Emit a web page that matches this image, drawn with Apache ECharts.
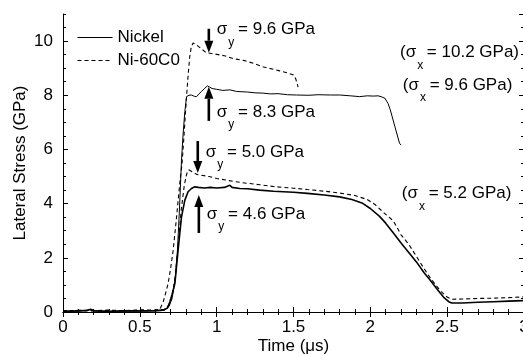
<!DOCTYPE html>
<html><head><meta charset="utf-8">
<script src="https://cdn.jsdelivr.net/npm/echarts@6/dist/echarts.min.js"></script>
<style>html,body{margin:0;padding:0;background:#fff}#c{width:523px;height:355px}</style>
</head><body><div id="c"></div>
<script>
const seriesNames = ['Nickel', 'Ni-60C0'];
const xTickValues = [0, 0.5, 1, 1.5, 2, 2.5, 3];
const yTickValues = [0, 2, 4, 6, 8, 10];

const nickelHigh = [[0,0.02],[0.1,0.03],[0.17,0.08],[0.22,0.03],[0.3,0.02],[0.4,0.03],[0.5,0.03],[0.6,0.04],[0.66,0.06],[0.69,0.2],[0.71,0.5],[0.73,1.2],[0.745,2.3],[0.758,3.8],[0.771,5.6],[0.782,6.6],[0.793,7.4],[0.804,7.95],[0.82,8.0],[0.836,8.01],[0.855,7.96],[0.869,7.95],[0.885,8.05],[0.901,8.14],[0.923,8.26],[0.94,8.35],[0.955,8.3],[0.97,8.25],[1.0,8.22],[1.04,8.18],[1.086,8.2],[1.13,8.14],[1.2,8.12],[1.25,8.09],[1.3,8.08],[1.35,8.05],[1.4,8.06],[1.46,8.02],[1.52,8.01],[1.6,8.0],[1.66,8.02],[1.74,8.01],[1.8,8.01],[1.87,7.98],[1.93,7.95],[1.98,7.98],[2.02,7.97],[2.05,7.98],[2.07,7.95],[2.095,7.89],[2.115,7.7],[2.13,7.46],[2.16,6.84],[2.19,6.23],[2.2,6.16]];

const niCoHigh = [[0,0.04],[0.1,0.05],[0.2,0.04],[0.3,0.06],[0.4,0.05],[0.5,0.06],[0.6,0.05],[0.63,0.1],[0.652,0.37],[0.668,0.7],[0.684,1.05],[0.7,1.6],[0.717,2.28],[0.739,3.5],[0.76,4.75],[0.775,5.5],[0.785,6.3],[0.795,7.2],[0.804,7.95],[0.815,8.8],[0.825,9.43],[0.835,9.8],[0.847,9.93],[0.87,9.85],[0.9,9.72],[0.925,9.6],[0.945,9.56],[0.99,9.52],[1.05,9.46],[1.108,9.35],[1.18,9.28],[1.24,9.18],[1.3,9.05],[1.36,8.97],[1.41,8.9],[1.46,8.83],[1.5,8.75],[1.515,8.6],[1.53,8.3]];

const nickelLow = [[0,0.03],[0.08,0.04],[0.15,0.05],[0.18,0.1],[0.21,0.04],[0.3,0.03],[0.4,0.04],[0.5,0.04],[0.6,0.05],[0.65,0.07],[0.68,0.15],[0.695,0.37],[0.71,0.65],[0.728,1.05],[0.749,2.28],[0.771,3.5],[0.793,4.13],[0.814,4.44],[0.836,4.56],[0.858,4.62],[0.88,4.6],[0.92,4.58],[0.96,4.6],[1.0,4.58],[1.05,4.6],[1.086,4.68],[1.1,4.6],[1.15,4.56],[1.2,4.55],[1.28,4.5],[1.37,4.46],[1.5,4.42],[1.59,4.38],[1.7,4.32],[1.8,4.25],[1.88,4.15],[1.95,4.01],[2.0,3.82],[2.06,3.53],[2.1,3.28],[2.15,2.92],[2.2,2.55],[2.25,2.2],[2.3,1.85],[2.35,1.45],[2.39,1.17],[2.44,0.8],[2.476,0.55],[2.51,0.38],[2.53,0.33],[2.6,0.33],[2.7,0.36],[2.8,0.38],[2.9,0.4],[3.0,0.42]];

const niCoLow = [[0,0.05],[0.1,0.06],[0.2,0.05],[0.3,0.07],[0.4,0.05],[0.5,0.08],[0.6,0.07],[0.66,0.1],[0.69,0.25],[0.71,0.6],[0.73,1.3],[0.75,2.5],[0.77,3.8],[0.79,4.7],[0.805,5.1],[0.818,5.25],[0.84,5.18],[0.87,5.08],[0.9,5.05],[0.95,5.0],[1.0,4.93],[1.11,4.82],[1.2,4.75],[1.28,4.7],[1.37,4.63],[1.5,4.57],[1.59,4.52],[1.7,4.46],[1.8,4.39],[1.9,4.3],[1.98,4.15],[2.03,3.97],[2.085,3.68],[2.15,3.36],[2.2,2.85],[2.25,2.5],[2.3,2.05],[2.35,1.6],[2.39,1.26],[2.45,0.82],[2.5,0.55],[2.53,0.47],[2.6,0.48],[2.7,0.5],[2.8,0.51],[2.9,0.53],[3.0,0.56]];

// yield annotations: text and the point (time, stress) the arrow points to
const yieldTexts = ['9.6 GPa', '8.3 GPa', '5.0 GPa', '4.6 GPa'];
const yieldPoints = [[0.949, 9.57], [0.949, 8.31], [0.877, 5.13], [0.884, 4.32]];
const shockTexts = ['10.2 GPa', '9.6 GPa', '5.2 GPa'];

const FONT = '"Liberation Sans", Arial, Helvetica, sans-serif';
const chart = echarts.init(document.getElementById('c'), null, {renderer: 'canvas'});

const axisLineStyle = {color: '#000', width: 1};
function xAxisDef(pos, labels) {
  return {
    type: 'value', position: pos, min: 0, max: 3, interval: 0.5,
    axisLine: {show: true, lineStyle: axisLineStyle},
    axisTick: {show: true, inside: true, length: 5, lineStyle: axisLineStyle},
    minorTick: {show: true, splitNumber: 5, length: 3, lineStyle: axisLineStyle},
    splitLine: {show: false}, minorSplitLine: {show: false},
    axisLabel: {show: labels, color: '#000', fontSize: 17, fontFamily: FONT, margin: 7,
      formatter: v => (xTickValues.indexOf(v) >= 0 ? String(v) : '')},
    name: labels ? 'Time (μs)' : '', nameLocation: 'middle', nameGap: 26, nameMoveOverlap: false,
    nameTextStyle: {color: '#000', fontSize: 17, fontFamily: FONT}
  };
}
function yAxisDef(pos, interval, len, labels, line) {
  return {
    type: 'value', position: pos, min: 0, max: 11, interval: interval,
    axisLine: {show: line, lineStyle: axisLineStyle},
    axisTick: {show: true, inside: true, length: len, lineStyle: axisLineStyle},
    splitLine: {show: false},
    axisLabel: {show: labels, color: '#000', fontSize: 17, fontFamily: FONT, margin: 10, showMaxLabel: false,
      formatter: v => (yTickValues.indexOf(v) >= 0 ? String(v) : '')},
    name: labels ? 'Lateral Stress (GPa)' : '', nameLocation: 'middle', nameGap: 34, nameMoveOverlap: false,
    nameTextStyle: {color: '#000', fontSize: 17, fontFamily: FONT}
  };
}

function lineSeries(name, data, dashed, width) {
  return {
    type: 'line', name: name, data: data, xAxisIndex: 0, yAxisIndex: 0,
    showSymbol: false, symbol: 'none', smooth: false, animation: false,
    lineStyle: {color: '#000', width: width, type: dashed ? [4, 3] : 'solid'},
    itemStyle: {color: '#000'}
  };
}

chart.setOption({
  backgroundColor: '#fff',
  animation: false,
  grid: {left: 63, right: -1, top: 14, bottom: 43, containLabel: false, outerBoundsMode: 'none'},
  legend: {
    orient: 'vertical', left: 72, top: 24, itemWidth: 35, itemHeight: 14, itemGap: 6,
    data: seriesNames,
    itemStyle: {color: 'rgba(0,0,0,0)', borderColor: 'rgba(0,0,0,0)', borderWidth: 0, opacity: 0},
    lineStyle: {width: 1},
    textStyle: {color: '#000', fontSize: 17, fontFamily: FONT}
  },
  xAxis: [xAxisDef('bottom', true), xAxisDef('top', false)],
  yAxis: [yAxisDef('left', 2, 5, true, true), yAxisDef('left', 0.5, 3, false, false),
          yAxisDef('right', 2, 5, false, true), yAxisDef('right', 0.5, 3, false, false)],
  series: [
    lineSeries(seriesNames[0], nickelHigh, false, 1),
    lineSeries(seriesNames[1], niCoHigh, true, 1.1),
    lineSeries(seriesNames[0], nickelLow, false, 1.6),
    lineSeries(seriesNames[1], niCoLow, true, 1.1)
  ]
});

// ---- annotations ----
const mctx = document.createElement('canvas').getContext('2d');
function tw(s, size) { mctx.font = size + 'px ' + FONT; return mctx.measureText(s).width; }
function txt(x, y, s, size) {
  return {type: 'text', x: x, y: y, silent: true,
    style: {text: s, font: size + 'px ' + FONT, fill: '#000', align: 'left', verticalAlign: 'middle',
            textAlign: 'left', textVerticalAlign: 'middle'}};
}
function subLabel(x, y, pre, sub, post) {
  const w1 = tw(pre, 17), w2 = tw(sub, 12);
  return [txt(x, y, pre, 17), txt(x + w1 + 1, y + 13, sub, 12), txt(x + w1 + w2, y, post, 17)];
}
function arrow(x, yTip, yTail) {
  const dir = yTail > yTip ? 1 : -1; // 1: arrow points up
  const head = 12, hw = 4.5;
  return [
    {type: 'line', silent: true, shape: {x1: x, y1: yTail, x2: x, y2: yTip + dir * head},
     style: {stroke: '#000', lineWidth: 2.6}},
    {type: 'polygon', silent: true, shape: {points: [[x, yTip], [x - hw, yTip + dir * head], [x + hw, yTip + dir * head]]},
     style: {fill: '#000'}}
  ];
}
const P = p => chart.convertToPixel({xAxisIndex: 0, yAxisIndex: 0}, p);
const els = [];
// [tail offset px, text y offset px] for each yield arrow
const yieldLayout = [[-24, -23], [34, 25], [-32, -21], [38, 19]];
yieldPoints.forEach((p, i) => {
  const [px, py] = P(p);
  const [tailOff, textOff] = yieldLayout[i];
  els.push(...arrow(px, py, py + tailOff));
  els.push(...subLabel(px + 8, py + textOff, 'σ', 'y', ' = ' + yieldTexts[i]));
});
const shockAnchors = [[2.193, 9.57], [2.211, 8.38], [2.205, 4.38]];
shockAnchors.forEach((p, i) => {
  const [px, py] = P(p);
  els.push(...subLabel(px, py, '(σ', 'x', ' = ' + shockTexts[i] + ')'));
});
chart.setOption({graphic: {elements: els}});
</script></body></html>
